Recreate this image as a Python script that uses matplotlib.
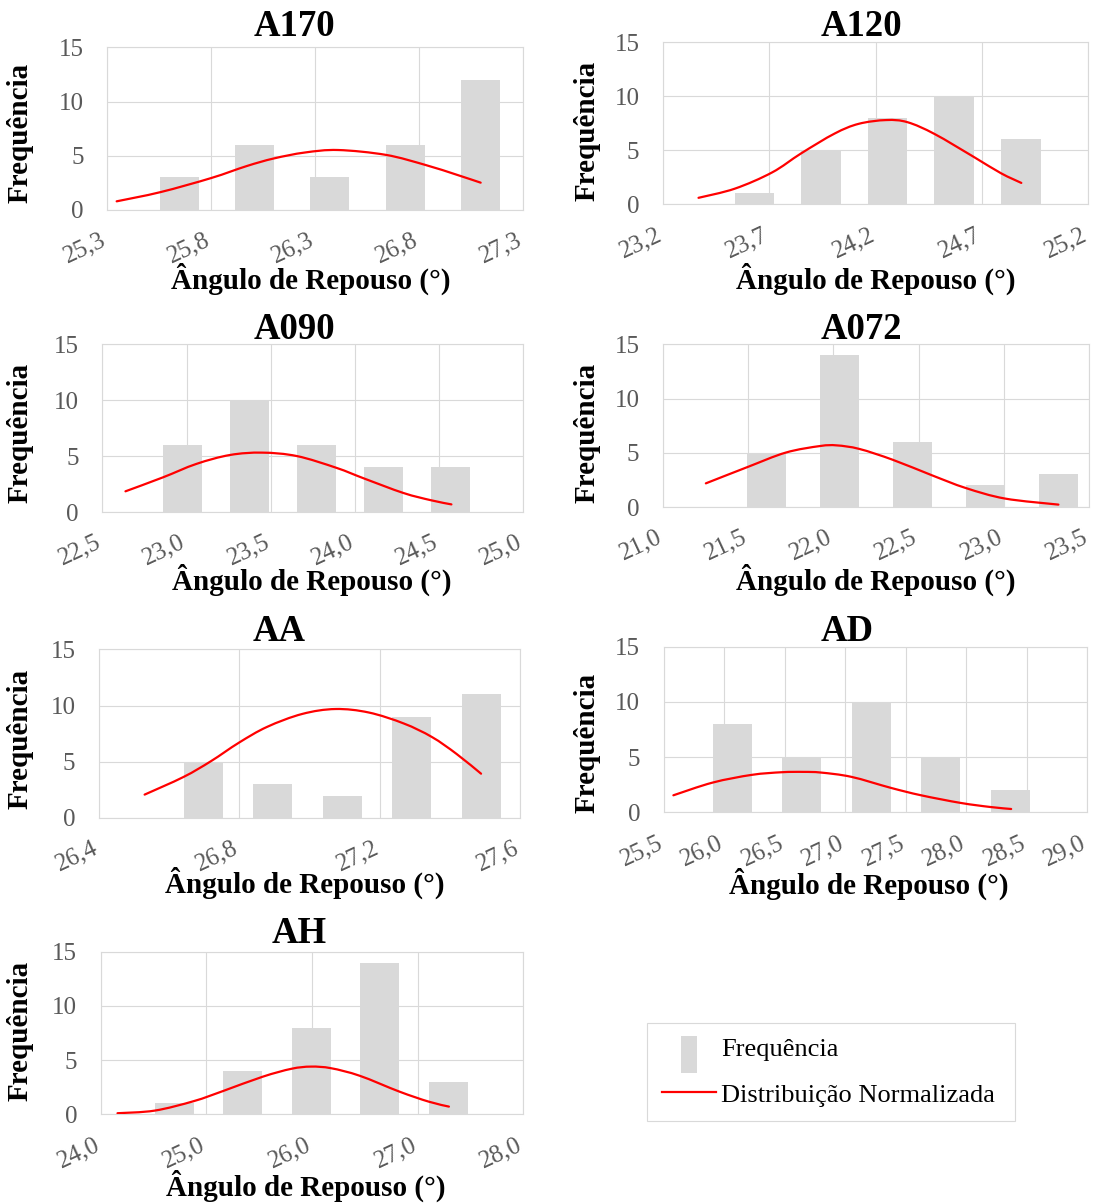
import matplotlib
matplotlib.use("Agg")
import matplotlib.pyplot as plt
from matplotlib.path import Path
from matplotlib.patches import PathPatch, Rectangle
from matplotlib.lines import Line2D
from matplotlib.legend_handler import HandlerPatch
from matplotlib.transforms import Affine2D

plt.rcParams["font.family"] = ["Liberation Serif", "DejaVu Serif"]

# ---------------- data ----------------
# bin centres (angle of repose, degrees), counts per bin,
# points along the fitted normal curve, and x-axis ticks

a170_bins = [25.646, 26.008, 26.368, 26.732, 27.094]
a170_freq = [3, 6, 3, 6, 12]
a170_fit_x = [25.345, 25.556, 25.80, 25.97, 26.10, 26.25, 26.41, 26.64, 26.83, 26.98, 27.095]
a170_fit_y = [0.80, 1.65, 2.95, 4.05, 4.75, 5.30, 5.53, 5.08, 4.15, 3.25, 2.52]
a170_ticks = [25.3, 25.8, 26.3, 26.8, 27.3]

a120_bins = [23.631, 23.943, 24.255, 24.568, 24.883]
a120_freq = [1, 5, 8, 10, 6]
a120_fit_x = [23.367, 23.538, 23.713, 23.85, 24.007, 24.12, 24.25, 24.35, 24.478, 24.662, 24.79, 24.885]
a120_fit_y = [0.60, 1.45, 2.95, 4.72, 6.55, 7.45, 7.80, 7.60, 6.50, 4.38, 2.87, 1.98]
a120_ticks = [23.2, 23.7, 24.2, 24.7, 25.2]

a090_bins = [22.977, 23.375, 23.773, 24.171, 24.569]
a090_freq = [6, 10, 6, 4, 4]
a090_fit_x = [22.637, 22.86, 23.058, 23.258, 23.45, 23.656, 23.89, 24.054, 24.288, 24.452, 24.573]
a090_fit_y = [1.85, 3.10, 4.30, 5.10, 5.31, 5.00, 3.95, 3.00, 1.70, 1.05, 0.68]
a090_ticks = [22.5, 23.0, 23.5, 24.0, 24.5, 25.0]

a072_bins = [21.61, 22.037, 22.464, 22.892, 23.32]
a072_freq = [5, 14, 6, 2, 3]
a072_fit_x = [21.251, 21.495, 21.721, 21.921, 22.02, 22.153, 22.349, 22.579, 22.777, 23.007, 23.321]
a072_fit_y = [2.18, 3.68, 5.02, 5.62, 5.68, 5.35, 4.35, 2.92, 1.75, 0.78, 0.22]
a072_ticks = [21.0, 21.5, 22.0, 22.5, 23.0, 23.5]

aa_bins = [26.697, 26.895, 27.093, 27.290, 27.489]
aa_freq = [5, 3, 2, 9, 11]
aa_fit_x = [26.530, 26.641, 26.719, 26.799, 26.879, 26.979, 27.074, 27.169, 27.269, 27.349, 27.419, 27.489]
aa_fit_y = [2.08, 3.65, 5.05, 6.70, 8.10, 9.25, 9.69, 9.38, 8.40, 7.20, 5.70, 3.94]
aa_ticks = [26.4, 26.8, 27.2, 27.6]

ad_bins = [26.065, 26.638, 27.215, 27.790, 28.362]
ad_freq = [8, 5, 10, 5, 2]
ad_fit_x = [25.58, 25.904, 26.227, 26.476, 26.653, 26.799, 27.051, 27.378, 27.627, 27.953, 28.199, 28.371]
ad_fit_y = [1.54, 2.69, 3.39, 3.63, 3.66, 3.60, 3.21, 2.21, 1.54, 0.85, 0.48, 0.30]
ad_ticks = [25.5, 26.0, 26.5, 27.0, 27.5, 28.0, 28.5, 29.0]

ah_bins = [24.697, 25.346, 25.993, 26.640, 27.290]
ah_freq = [1, 4, 8, 14, 3]
ah_fit_x = [24.159, 24.511, 24.883, 25.159, 25.534, 25.806, 25.99, 26.181, 26.453, 26.828, 27.104, 27.296]
ah_fit_y = [0.10, 0.34, 1.22, 2.15, 3.47, 4.20, 4.40, 4.25, 3.55, 2.09, 1.17, 0.71]
ah_ticks = [24.0, 25.0, 26.0, 27.0, 28.0]

freq_ticks = [0, 5, 10, 15]

titles = ["A170", "A120", "A090", "A072", "AA", "AD", "AH"]
series = [
    (a170_bins, a170_freq, a170_fit_x, a170_fit_y, a170_ticks),
    (a120_bins, a120_freq, a120_fit_x, a120_fit_y, a120_ticks),
    (a090_bins, a090_freq, a090_fit_x, a090_fit_y, a090_ticks),
    (a072_bins, a072_freq, a072_fit_x, a072_fit_y, a072_ticks),
    (aa_bins, aa_freq, aa_fit_x, aa_fit_y, aa_ticks),
    (ad_bins, ad_freq, ad_fit_x, ad_fit_y, ad_ticks),
    (ah_bins, ah_freq, ah_fit_x, ah_fit_y, ah_ticks),
]

# ---------------- layout (pixels, origin top-left) ----------------
W, H = 1094, 1203
# plot box: left, top, right, bottom
boxes = [
    (107.3, 47.3, 523.3, 210.0),
    (663.0, 42.3, 1088.3, 204.3),
    (102.4, 344.3, 523.3, 512.0),
    (663.1, 344.3, 1088.9, 507.0),
    (99.0, 649.3, 520.0, 818.0),
    (663.7, 646.7, 1087.3, 812.3),
    (100.7, 951.7, 523.3, 1114.3),
]
title_pos = [(294, 36), (861, 36), (294, 339), (861, 339), (279, 641), (847, 641), (299.5, 943)]
xlabel_pos = [(311, 289), (876, 289), (312, 590), (876, 590), (305, 893), (869, 894), (306, 1196)]
ylabel_pos = [(33.3, 132.5), (600.3, 130.8), (33.3, 432.8), (600.3, 432.8),
              (33.3, 739.0), (600.3, 742.5), (33.3, 1031.3)]
bar_widths = [0.1875, 0.185, 0.232, 0.229, 0.111, 0.322, 0.369]

BAR = "#d9d9d9"
GRID = "#d9d9d9"
TICK = "#595959"
RED = "#ff0000"

fig = plt.figure(figsize=(W / 100, H / 100), dpi=100)
px = Affine2D().scale(1 / W, -1 / H).translate(0, 1) + fig.transFigure


def smooth_path(xs, ys):
    """Smoothed line through the points (Catmull-Rom as cubic Beziers)."""
    pts = list(zip(xs, ys))
    n = len(pts)
    verts = [pts[0]]
    codes = [Path.MOVETO]
    for i in range(n - 1):
        p0 = pts[i - 1] if i > 0 else pts[i]
        p1 = pts[i]
        p2 = pts[i + 1]
        p3 = pts[i + 2] if i + 2 < n else pts[i + 1]
        c1 = (p1[0] + (p2[0] - p0[0]) / 6, p1[1] + (p2[1] - p0[1]) / 6)
        c2 = (p2[0] - (p3[0] - p1[0]) / 6, p2[1] - (p3[1] - p1[1]) / 6)
        verts += [c1, c2, p2]
        codes += [Path.CURVE4] * 3
    return Path(verts, codes)


def fmt(v):
    return f"{v:.1f}".replace(".", ",")


for k, (name, (bins, freq, fx, fy, xt)) in enumerate(zip(titles, series)):
    l, t, r, b = boxes[k]
    ax = fig.add_axes([l / W, 1 - b / H, (r - l) / W, (b - t) / H])
    ax.bar(bins, freq, width=bar_widths[k], color=BAR, zorder=2)
    ax.add_patch(PathPatch(smooth_path(fx, fy), facecolor="none", edgecolor=RED,
                           lw=1.6, capstyle="round", zorder=3))
    ax.set_xlim(xt[0], xt[-1])
    ax.set_ylim(0, 15)
    ax.set_xticks(xt, labels=[fmt(v) for v in xt])
    ax.set_yticks(freq_ticks)
    ax.set_axisbelow(True)
    ax.grid(True, color=GRID, lw=0.8)
    for sp in ax.spines.values():
        sp.set_color(GRID)
        sp.set_linewidth(0.8)
    ax.tick_params(axis="both", length=0, labelsize=18, labelcolor=TICK)
    ax.tick_params(axis="y", pad=17)
    ax.tick_params(axis="x", pad=25, labelrotation=25)
    for lab in ax.get_xticklabels():
        lab.set_ha("right")
        lab.set_va("baseline")
        lab.set_rotation_mode("anchor")

    ax.set_xlabel("Ângulo de Repouso (°)", fontsize=21, fontweight="bold")
    ax.xaxis.set_label_coords(*xlabel_pos[k], transform=px)
    ax.xaxis.label.set_va("baseline")
    ax.set_ylabel("Frequência", fontsize=21, fontweight="bold")
    ax.yaxis.set_label_coords(*ylabel_pos[k], transform=px)

    fig.text(*title_pos[k], name, transform=px, ha="center", va="baseline",
             fontsize=26.5, fontweight="bold")


def tall_swatch(legend, orig_handle, xdescent, ydescent, width, height, fontsize):
    w = 0.6 * fontsize
    h = 1.42 * fontsize
    cx = -xdescent + width / 2
    cy = -ydescent + height / 2 - 0.3 * fontsize
    return Rectangle((cx - w / 2, cy - h / 2), w, h)


bar_handle = Rectangle((0, 0), 1, 1, facecolor=BAR, edgecolor="none")
line_handle = Line2D([], [], color=RED, lw=1.6)
leg = fig.legend(
    [bar_handle, line_handle],
    ["Frequência", "Distribuição Normalizada"],
    loc="upper left",
    bbox_to_anchor=(647.3 / W, 1 - 1118.3 / H, 367.7 / W, 95.6 / H),
    mode="expand",
    borderaxespad=0,
    borderpad=0.55,
    labelspacing=0.85,
    handlelength=2.05,
    handletextpad=0.2,
    fontsize=19,
    frameon=True,
    fancybox=False,
    framealpha=1,
    edgecolor=GRID,
    handler_map={Rectangle: HandlerPatch(patch_func=tall_swatch)},
)
leg.get_frame().set_linewidth(0.8)

fig.savefig("out.png", dpi=100)
